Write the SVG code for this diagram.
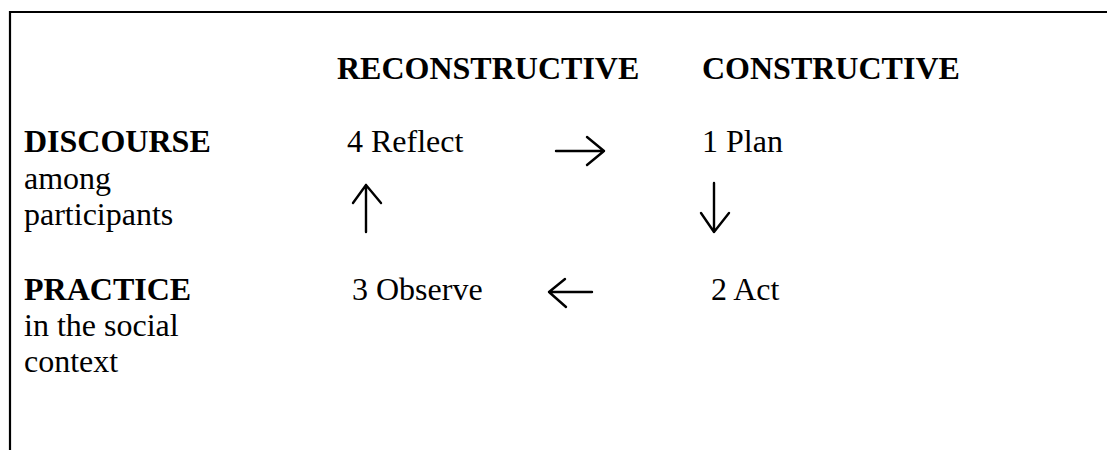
<svg xmlns="http://www.w3.org/2000/svg" width="1107" height="450" viewBox="0 0 1107 450">
<style>
.t{font-family:"Liberation Serif","Times New Roman",serif;font-size:32px;fill:#000}
.b{font-weight:bold}
.arr{fill:none;stroke:#000;stroke-width:2.4;stroke-linecap:round;stroke-linejoin:round}
</style>
<rect width="1107" height="450" fill="#fff"/>
<path d="M10,450 V12 H1107" fill="none" stroke="#000" stroke-width="2.2"/>
<g id="header-reconstructive"><text class="t b" x="337" y="79">RECONSTRUCTIVE</text></g>
<g id="header-constructive"><text class="t b" x="702" y="79">CONSTRUCTIVE</text></g>
<g id="row-discourse"><text class="t"><tspan class="b" x="24" y="152">DISCOURSE</tspan><tspan x="24" y="189">among</tspan><tspan x="24" y="225">participants</tspan></text></g>
<g id="row-practice"><text class="t"><tspan class="b" x="24" y="300">PRACTICE</tspan><tspan x="24" y="336">in the social</tspan><tspan x="24" y="372">context</tspan></text></g>
<g id="node-reflect"><text class="t" x="347" y="152">4 Reflect</text></g>
<g id="node-plan"><text class="t" x="702" y="152">1 Plan</text></g>
<g id="node-act"><text class="t" x="711" y="300">2 Act</text></g>
<g id="node-observe"><text class="t" x="352" y="300">3 Observe</text></g>
<g id="connectors">
<path class="arr" d="M556,151 H604 M587,137 L604,151 L587,165"/>
<path class="arr" d="M714,183 V232 M701,213 L714,232 L729,213"/>
<path class="arr" d="M592,292 H549 M565,279 L549,292 L566,307"/>
<path class="arr" d="M366,232 V185 M353,203 L366,185 L381,203"/>
</g>
</svg>
